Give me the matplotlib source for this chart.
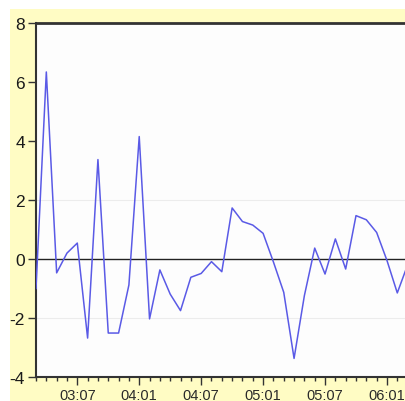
import matplotlib
matplotlib.use("Agg")
import matplotlib.pyplot as plt
from matplotlib.patches import Rectangle
from matplotlib.ticker import MultipleLocator

# monthly series starting 2003:03
values = [-1.0, 6.34, -0.47, 0.2, 0.54, -2.68, 3.37, -2.51, -2.51, -0.88,
          4.15, -2.03, -0.37, -1.19, -1.75, -0.62, -0.49, -0.09, -0.43, 1.73,
          1.27, 1.15, 0.87, -0.1, -1.13, -3.37, -1.24, 0.37, -0.51, 0.68,
          -0.34, 1.47, 1.33, 0.9, -0.05, -1.15, -0.2]
months = list(range(len(values)))
tick_pos = [4, 10, 16, 22, 28, 34]
tick_labels = ["03:07", "04:01", "04:07", "05:01", "05:07", "06:01"]
y_ticks = [-4, -2, 0, 2, 4, 6, 8]

W, H = 405, 402
fig = plt.figure(figsize=(W / 100, H / 100), dpi=100, facecolor="#FFFCC4")
# white strips on top and left
fig.patches.append(Rectangle((0, 1 - 10 / H), 1, 10 / H, transform=fig.transFigure,
                             facecolor="white", edgecolor="none", zorder=-5))
fig.patches.append(Rectangle((0, 0), 10 / W, 1, transform=fig.transFigure,
                             facecolor="white", edgecolor="none", zorder=-5))

ax = fig.add_axes([36 / W, 24 / H, 1 - 36 / W + 0.002, (378 - 24) / H])
ax.set_zorder(5)
ax.set_facecolor("#FDFDFD")
ax.plot(months, values, color="#5A5AE6", lw=1.1, zorder=3)
ax.axhline(0, color="#222222", lw=1.0, zorder=2)
for yv in [-2, 2]:
    ax.axhline(yv, color="#ECECEC", lw=0.8, zorder=1)

ax.set_ylim(-4, 8)
ax.set_xlim(0, (405 - 36) / 10.3)
ax.set_yticks(y_ticks)
ax.set_yticklabels([str(v) for v in y_ticks], fontsize=12.5, color="#1A1A1A",
                   family="Liberation Sans")
ax.set_xticks(tick_pos)
ax.set_xticklabels(tick_labels, fontsize=10.5, color="#2A2A2A",
                   family="Liberation Sans")
ax.xaxis.set_minor_locator(MultipleLocator(1))
ax.tick_params(axis="y", direction="out", length=6, width=1, color="#333333", pad=2)
ax.tick_params(axis="x", which="major", direction="out", length=6, width=1,
               color="#333333", pad=2)
ax.tick_params(axis="x", which="minor", direction="out", length=3, width=1,
               color="#333333")

ax.spines["right"].set_visible(False)
ax.spines["top"].set_linewidth(2.0)
ax.spines["top"].set_color("#333333")
ax.spines["left"].set_linewidth(1.5)
ax.spines["left"].set_color("#333333")
ax.spines["bottom"].set_linewidth(1.5)
ax.spines["bottom"].set_color("#333333")

fig.savefig("out.png", dpi=100, facecolor=fig.get_facecolor())
